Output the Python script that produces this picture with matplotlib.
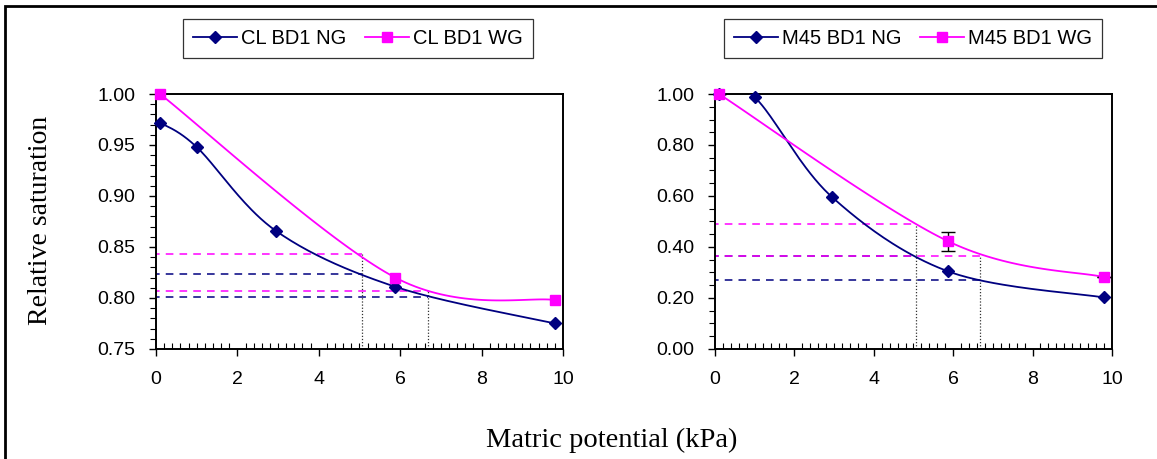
import numpy as np
import matplotlib
matplotlib.use("Agg")
import matplotlib.pyplot as plt
from matplotlib.patches import Rectangle
from matplotlib.ticker import MultipleLocator, FormatStrFormatter

# data
x_ng = [0.1, 1.0, 2.94, 5.88, 9.8]
x_wg = [0.1, 5.88, 9.8]

cl_ng = [0.972, 0.948, 0.866, 0.811, 0.775]
cl_wg = [1.000, 0.820, 0.798]
m45_ng = [1.000, 0.987, 0.597, 0.304, 0.202]
m45_wg = [1.000, 0.422, 0.282]
m45_wg_err = [0.0, 0.038, 0.0]

# guide lines: x where each curve is read, y level of each curve there
guide_x = [5.07, 6.68]
cl_ng_guide = [0.824, 0.801]
cl_wg_guide = [0.843, 0.807]
m45_ng_guide = [0.364, 0.269]
m45_wg_guide = [0.490, 0.364]

NAVY = "#000080"
MAGENTA = "#FF00FF"


def smooth(xs, ys, n=40):
    # excel style smoothed line: bezier segments, catmull-rom control points
    p = np.column_stack([xs, ys]).astype(float)
    pts = np.vstack([p[0], p, p[-1]])
    t = np.linspace(0, 1, n)[:, None]
    out = []
    for i in range(1, len(pts) - 2):
        p0, p1, p2, p3 = pts[i - 1], pts[i], pts[i + 1], pts[i + 2]
        c1 = p1 + (p2 - p0) / 6.0
        c2 = p2 - (p3 - p1) / 6.0
        seg = ((1 - t) ** 3) * p1 + 3 * ((1 - t) ** 2) * t * c1 + 3 * (1 - t) * t ** 2 * c2 + t ** 3 * p2
        out.append(seg)
    out = np.vstack(out)
    return out[:, 0], out[:, 1]


plt.rcParams['font.family'] = ['Liberation Sans', 'DejaVu Sans']

fig = plt.figure(figsize=(11.57, 4.59), dpi=100)
ax1 = fig.add_axes([0.1348, 0.2397, 0.3518, 0.5555])
ax2 = fig.add_axes([0.618, 0.2397, 0.343, 0.5555])


def draw(ax, ng, wg, ng_guide, wg_guide, ng_label, wg_label, ylim, major, minor, fmt,
         leg_loc, leg_anchor, err=None):
    ymin = ylim[0]
    # guide lines
    for gx, gy in zip(guide_x, ng_guide):
        ax.plot([-0.1, gx], [gy, gy], color=NAVY, ls=(0, (5, 4)), lw=1.1, zorder=2)
    for gx, gy in zip(guide_x, wg_guide):
        ax.plot([-0.1, gx], [gy, gy], color=MAGENTA, ls=(0, (5, 4)), lw=1.1, zorder=2)
    tops = [max(a, b) for a, b in zip(ng_guide, wg_guide)]
    tops[1] = wg_guide[1]
    for gx, top in zip(guide_x, tops):
        ax.plot([gx, gx], [ymin, top], color="#333333", ls=(0, (1, 1.5)), lw=0.9, zorder=2)

    sx, sy = smooth(x_ng, ng)
    ax.plot(sx, sy, color=NAVY, lw=1.3, zorder=3)
    sx, sy = smooth(x_wg, wg)
    ax.plot(sx, sy, color=MAGENTA, lw=1.3, zorder=3)
    ax.plot(x_ng, ng, ls="none", marker="D", ms=6.5, color=NAVY, zorder=4, clip_on=False)
    if err is not None:
        ax.errorbar(x_wg, wg, yerr=err, fmt="none", ecolor="black", elinewidth=1, capsize=5, capthick=1, zorder=4)
    ax.plot(x_wg, wg, ls="none", marker="s", ms=7, color=MAGENTA, zorder=5, clip_on=False)

    # legend proxies
    h1, = ax.plot([], [], color=NAVY, lw=1.3, marker="D", ms=6.5)
    h2, = ax.plot([], [], color=MAGENTA, lw=1.3, marker="s", ms=7)
    leg = ax.legend([h1, h2], [ng_label, wg_label], ncol=2, loc=leg_loc,
                    bbox_to_anchor=leg_anchor, fontsize=14.5, frameon=True, fancybox=False,
                    edgecolor="black", handlelength=2.2, handletextpad=0.2, columnspacing=0.9,
                    borderpad=0.5, borderaxespad=0)
    leg.get_frame().set_linewidth(0.9)

    ax.set_xlim(0, 10)
    ax.set_ylim(*ylim)
    ax.xaxis.set_major_locator(MultipleLocator(2))
    ax.xaxis.set_minor_locator(MultipleLocator(0.2))
    ax.yaxis.set_major_locator(MultipleLocator(major))
    ax.yaxis.set_minor_locator(MultipleLocator(minor))
    ax.yaxis.set_major_formatter(FormatStrFormatter(fmt))
    ax.tick_params(axis="x", which="major", direction="out", length=5, width=1, labelsize=14, pad=11)
    ax.tick_params(axis="x", which="minor", direction="in", length=4, width=0.8)
    ax.tick_params(axis="y", which="major", direction="out", length=5, width=1, labelsize=14, pad=10)
    ax.tick_params(axis="y", which="minor", direction="out", length=4, width=0.8)
    for s in ax.spines.values():
        s.set_linewidth(1.4)
        s.set_color("black")


draw(ax1, cl_ng, cl_wg, cl_ng_guide, cl_wg_guide, "CL BD1 NG", "CL BD1 WG",
     (0.75, 1.0), 0.05, 0.01, "%.2f", "lower left", (0.066, 1.141))
draw(ax2, m45_ng, m45_wg, m45_ng_guide, m45_wg_guide, "M45 BD1 NG", "M45 BD1 WG",
     (0.0, 1.0), 0.2, 0.05, "%.2f", "lower right", (0.975, 1.141), err=m45_wg_err)

fig.text(0.035, 0.52, "Relative saturation", rotation=90, ha="center", va="center",
         fontsize=20, family=["Liberation Serif", "DejaVu Serif"])
fig.text(0.529, 0.041, "Matric potential (kPa)", ha="center", va="center",
         fontsize=20.5, family=["Liberation Serif", "DejaVu Serif"])

# outer frame of the figure
fig.patches.append(Rectangle((5 / 1157, -0.05), 1.1, 1 - 6 / 459 + 0.05, transform=fig.transFigure,
                             fill=False, edgecolor="black", lw=2))

fig.savefig("out.png", dpi=100)
